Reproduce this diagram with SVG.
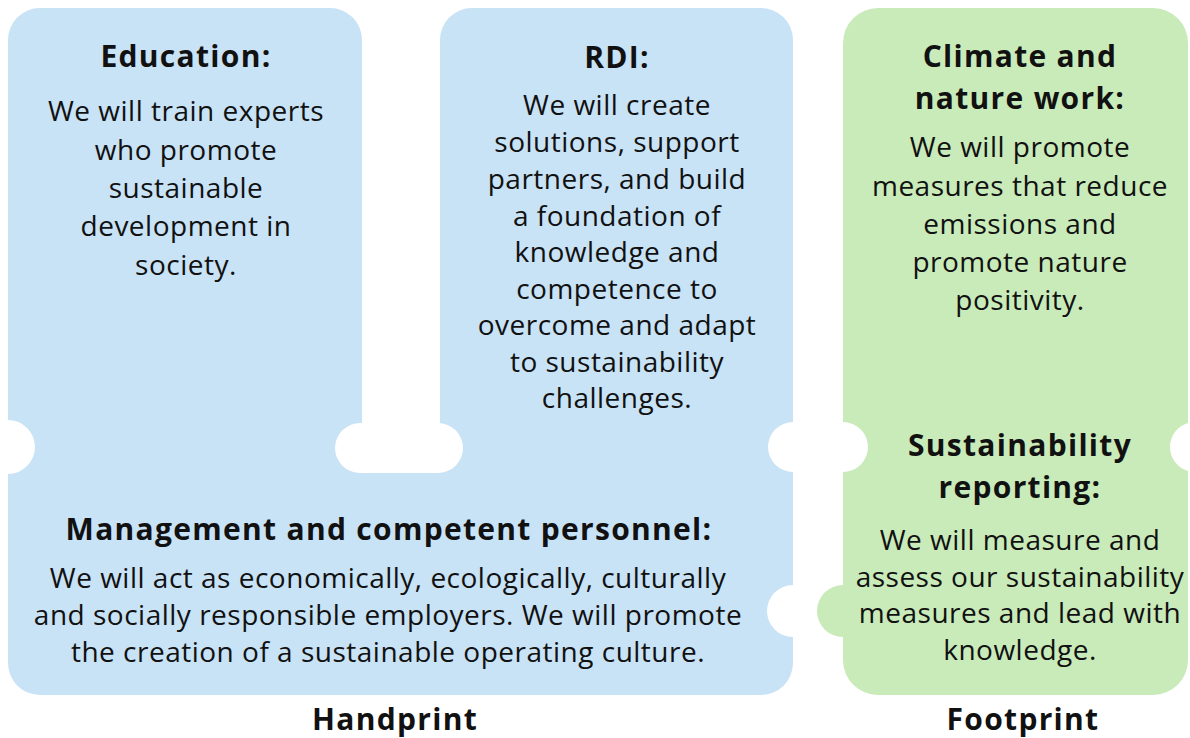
<svg xmlns="http://www.w3.org/2000/svg" width="1190" height="738" viewBox="0 0 1190 738">
<style>
.blue{fill:#c8e2f6}
.green{fill:#c9eab9}
text{font-family:"Open Sans","Noto Sans","Liberation Sans",sans-serif;fill:#111;text-anchor:middle}
.h{font-weight:700;font-size:30px;letter-spacing:1.3px}
.b{font-size:28px;letter-spacing:0.5px}
</style>
<rect width="1190" height="738" fill="#fff"/>
<g id="handprint">
<path class="blue" d="M8,40 A32,32 0 0 1 40,8 H330 A32,32 0 0 1 362,40 V423 H360 A25,25 0 0 0 360,473 H438 A25,25 0 0 0 438,423 H440 V40 A32,32 0 0 1 472,8 H761 A32,32 0 0 1 793,40 V422 A25,25 0 0 0 793,472 V585 A26,26 0 0 0 793,637 V663 A32,32 0 0 1 761,695 H40 A32,32 0 0 1 8,663 V474 A27,27 0 0 0 8,420 Z"/>
</g>
<g id="footprint">
<path class="green" d="M843,43 A35,35 0 0 1 878,8 H1153 A35,35 0 0 1 1188,43 V423 A25,25 0 0 0 1188,471 V660 A35,35 0 0 1 1153,695 H878 A35,35 0 0 1 843,660 V637 A26,26 0 0 1 843,585 V472 A25,25 0 0 0 843,422 Z"/>
</g>
<g id="education">
<text class="h" x="186" y="67">Education:</text>
<text class="b" x="186" y="121">We will train experts</text>
<text class="b" x="186" y="160">who promote</text>
<text class="b" x="186" y="198">sustainable</text>
<text class="b" x="186" y="236">development in</text>
<text class="b" x="186" y="275">society.</text>
</g>
<g id="rdi">
<text class="h" x="617" y="68">RDI:</text>
<text class="b" x="617" y="115">We will create</text>
<text class="b" x="617" y="152">solutions, support</text>
<text class="b" x="617" y="189">partners, and build</text>
<text class="b" x="617" y="226">a foundation of</text>
<text class="b" x="617" y="262">knowledge and</text>
<text class="b" x="617" y="299">competence to</text>
<text class="b" x="617" y="335">overcome and adapt</text>
<text class="b" x="617" y="372">to sustainability</text>
<text class="b" x="617" y="408">challenges.</text>
</g>
<g id="management">
<text class="h" x="389" y="540">Management and competent personnel:</text>
<text class="b" x="388" y="588">We will act as economically, ecologically, culturally</text>
<text class="b" x="388" y="625">and socially responsible employers. We will promote</text>
<text class="b" x="388" y="662">the creation of a sustainable operating culture.</text>
</g>
<g id="climate">
<text class="h" x="1020" y="67">Climate and</text>
<text class="h" x="1020" y="109">nature work:</text>
<text class="b" x="1020" y="157">We will promote</text>
<text class="b" x="1020" y="196">measures that reduce</text>
<text class="b" x="1020" y="234">emissions and</text>
<text class="b" x="1020" y="272">promote nature</text>
<text class="b" x="1020" y="310">positivity.</text>
</g>
<g id="reporting">
<text class="h" x="1020" y="456">Sustainability</text>
<text class="h" x="1020" y="498">reporting:</text>
<text class="b" x="1020" y="550">We will measure and</text>
<text class="b" x="1020" y="587">assess our sustainability</text>
<text class="b" x="1020" y="623">measures and lead with</text>
<text class="b" x="1020" y="660">knowledge.</text>
</g>
<g id="labels">
<text class="h" x="395" y="730">Handprint</text>
<text class="h" x="1023" y="730">Footprint</text>
</g>
<g id="connectors"/>
</svg>
